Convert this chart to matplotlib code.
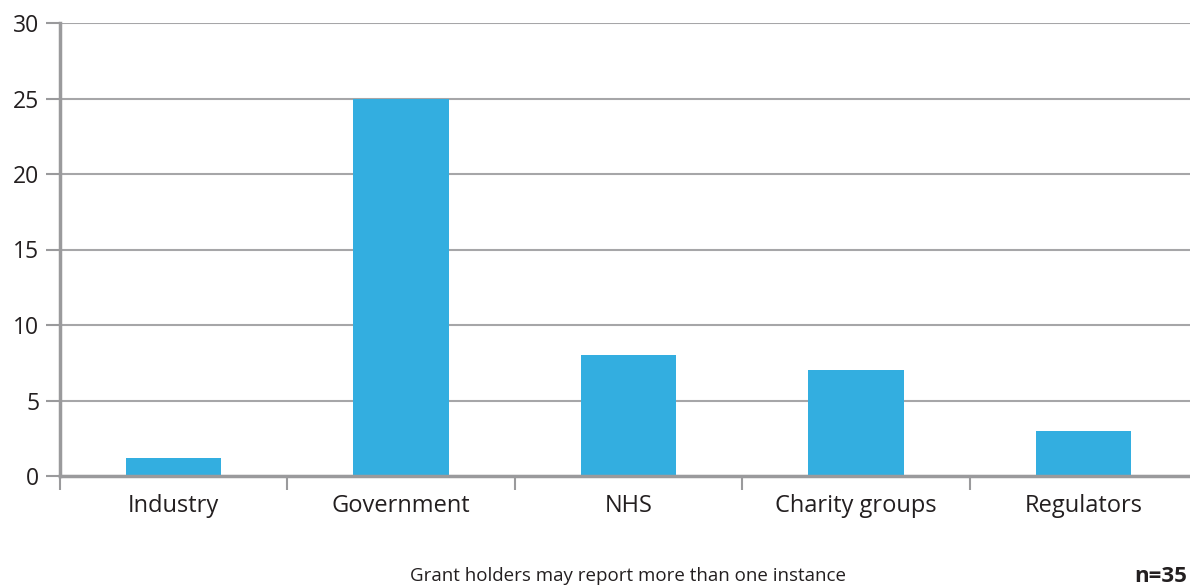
import matplotlib.pyplot as plt
import numpy as np

plt.rcParams['font.family'] = ['Open Sans', 'DejaVu Sans']

categories = ['Industry', 'Government', 'NHS', 'Charity groups', 'Regulators']
values = [1.2, 25, 8, 7, 3]

bar_color = '#33aee0'
grid_color = '#a6a6a8'
axis_color = '#9a9a9c'

fig = plt.figure(figsize=(11.9, 5.86), dpi=100)
ax = fig.add_axes([60 / 1190, 110 / 586, 1137 / 1190, 453 / 586])

x = np.arange(len(categories))
ax.bar(x, values, width=0.42, color=bar_color, zorder=3)

ax.set_xlim(-0.5, len(categories) - 0.5)
ax.set_ylim(0, 30)
ax.set_yticks(np.arange(0, 31, 5))
ax.yaxis.grid(True, color=grid_color, linewidth=1.5, zorder=0)

# category labels between boundary ticks
ax.set_xticks(np.arange(-0.5, len(categories), 1.0))
ax.set_xticklabels([])
ax.set_xticks(x, minor=True)
ax.set_xticklabels(categories, minor=True, fontsize=17, color='#231f20')
ax.tick_params(axis='x', which='minor', length=0, pad=13)
ax.tick_params(axis='x', which='major', length=10, width=1.5, color=axis_color)
ax.tick_params(axis='y', length=10, width=1.5, color=axis_color,
               labelsize=16.5, labelcolor='#231f20', pad=5)

for side in ['top', 'right']:
    ax.spines[side].set_visible(False)
for side in ['left', 'bottom']:
    ax.spines[side].set_color(axis_color)
    ax.spines[side].set_linewidth(2.5)
ax.spines['left'].set_zorder(4)
ax.spines['bottom'].set_zorder(4)

fig.text(628 / 1190, 10 / 586, 'Grant holders may report more than one instance',
         ha='center', va='center', fontsize=13.5, color='#231f20')
# the reference crops this at the edge; keep it just inside
fig.text(1187 / 1190, 10 / 586, 'n=35', ha='right', va='center',
         fontsize=16, fontweight='bold', color='#231f20')

fig.savefig('out.png', dpi=100)
